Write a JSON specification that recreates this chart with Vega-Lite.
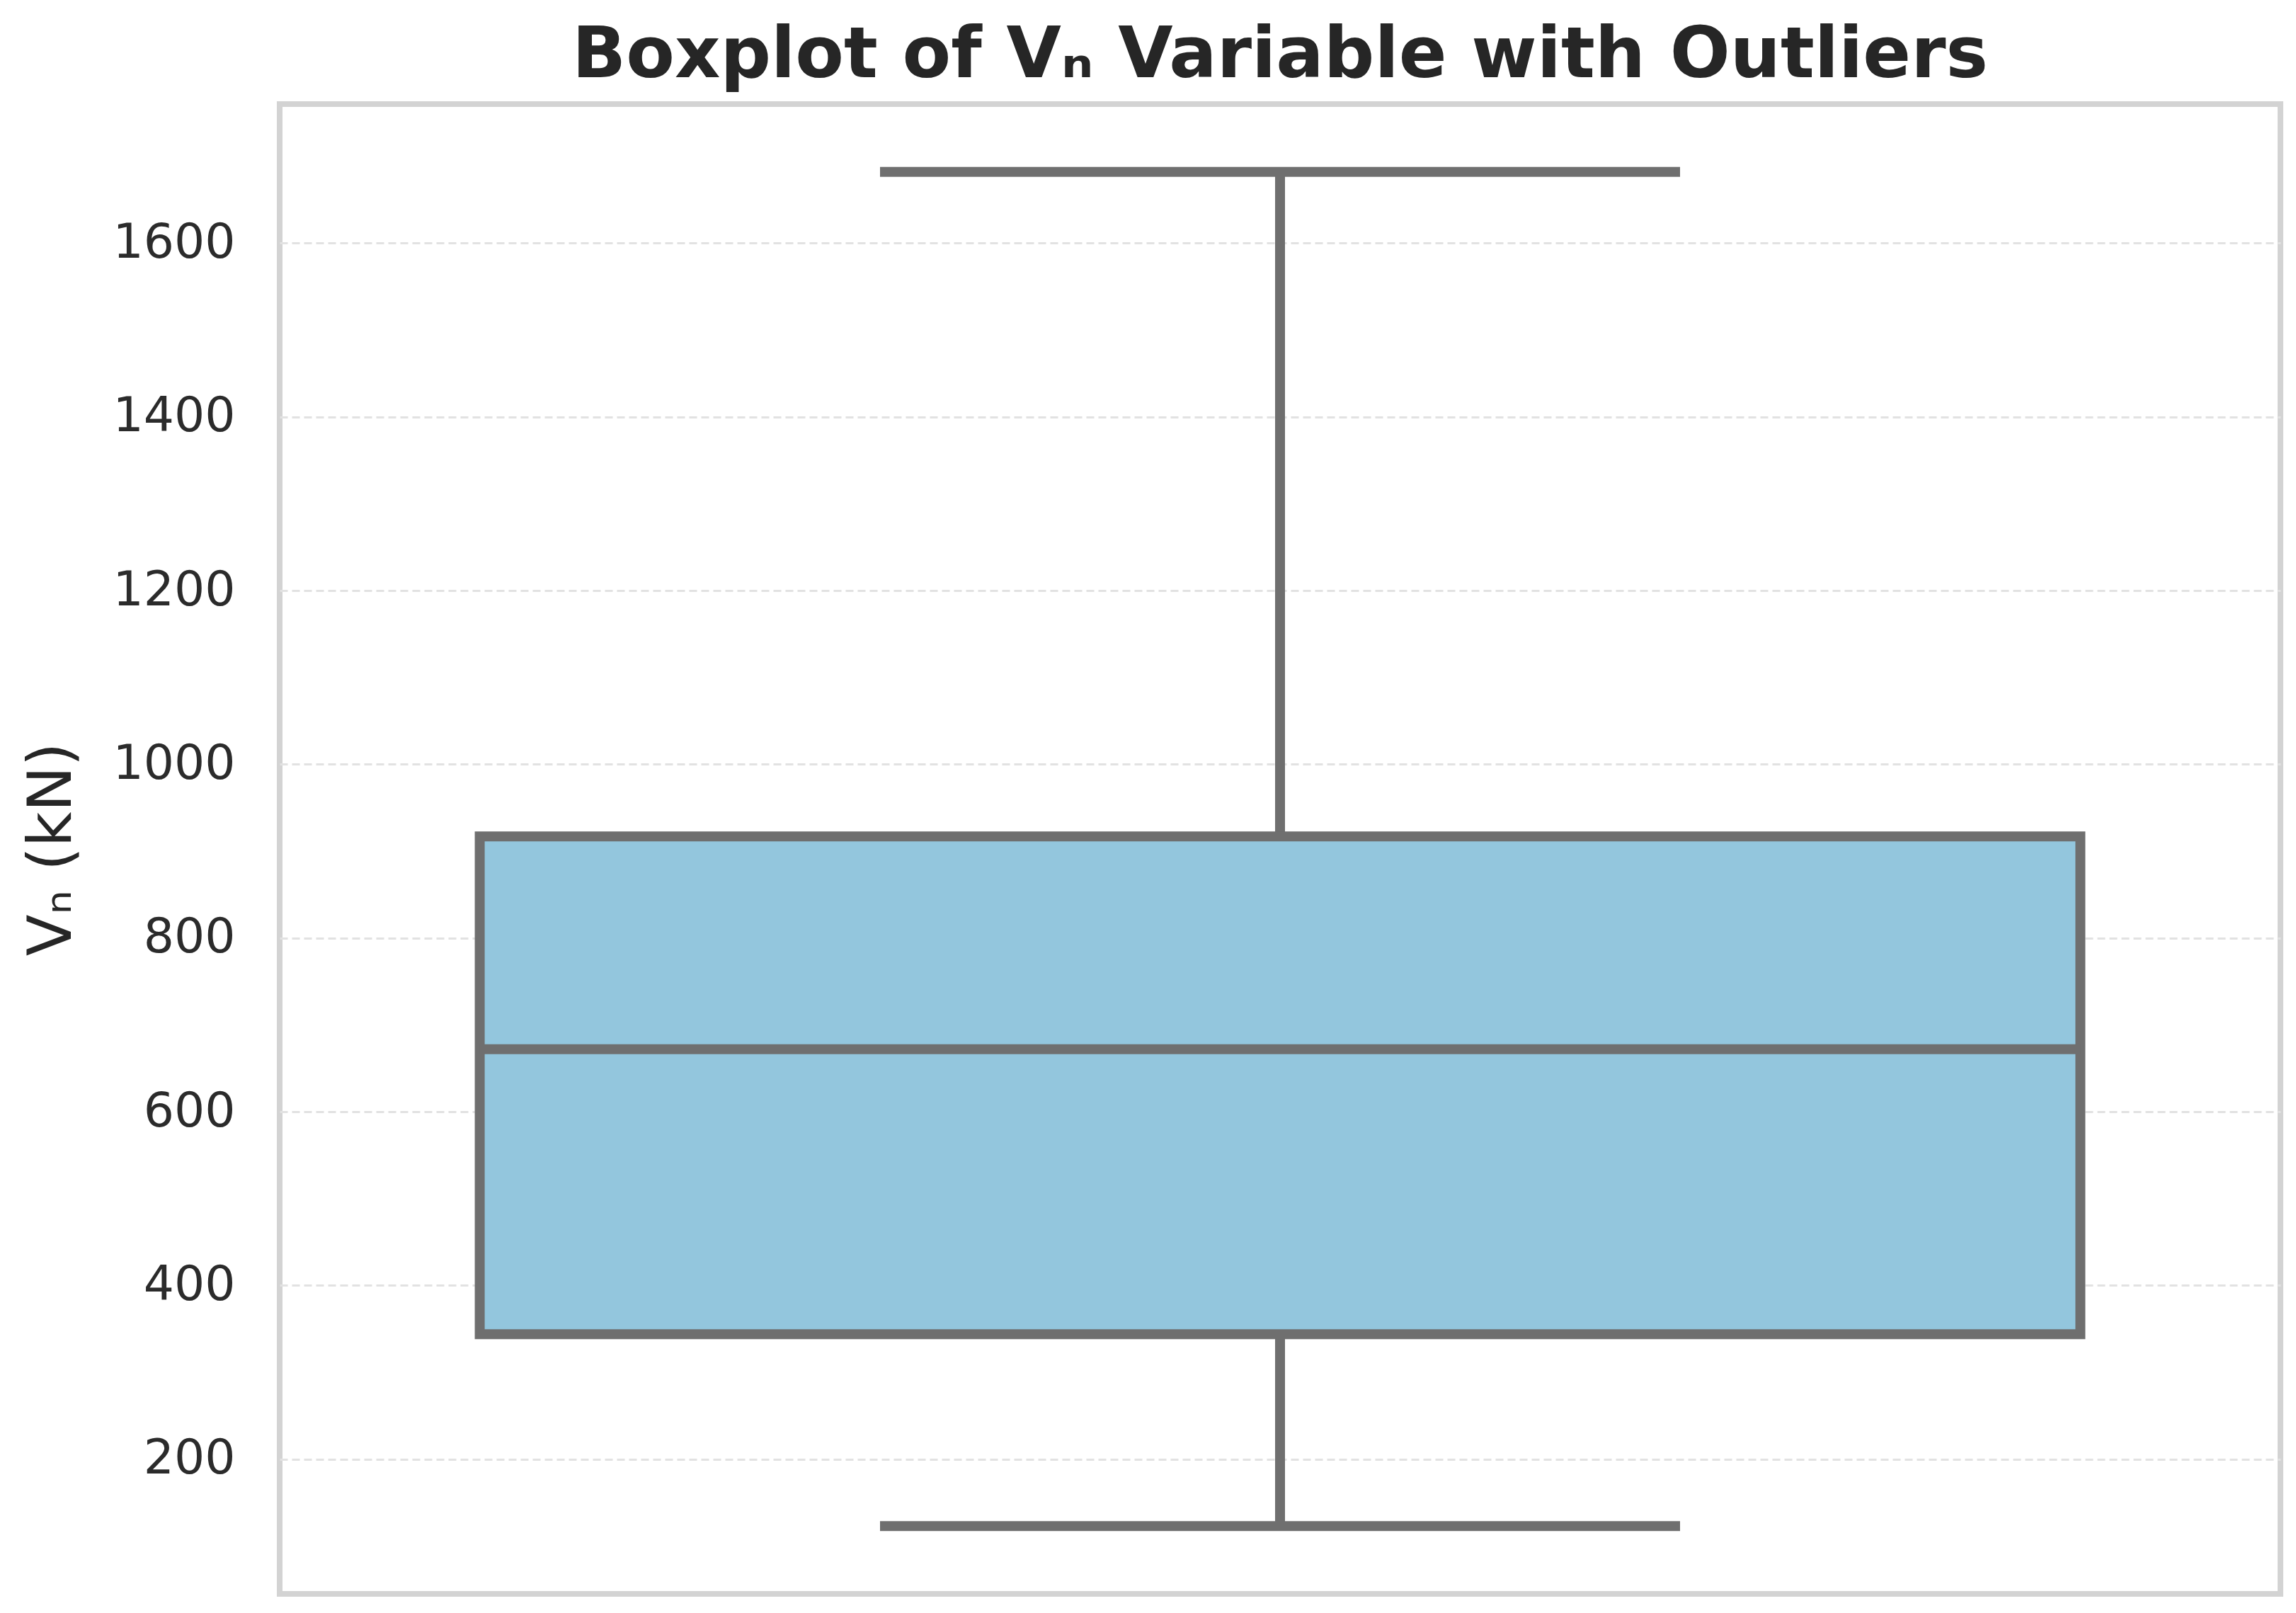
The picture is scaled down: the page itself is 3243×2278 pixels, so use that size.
{
  "$schema": "https://vega.github.io/schema/vega-lite/v6.json",
  "autosize": {"type": "none"},
  "width": 2826,
  "height": 2104,
  "padding": {"left": 395, "top": 147, "right": 22, "bottom": 27},
  "background": "white",
  "title": {
    "text": "Boxplot of Vₙ Variable with Outliers",
    "font": "DejaVu Sans",
    "fontSize": 100,
    "fontWeight": "bold",
    "color": "#262626",
    "anchor": "middle",
    "baseline": "alphabetic",
    "offset": 32,
    "dy": 94
  },
  "data": {
    "values": [
      {"var": "Vn", "lower": 123, "q1": 344, "median": 672, "q3": 917, "upper": 1682}
    ]
  },
  "encoding": {
    "x": {
      "field": "var",
      "type": "nominal",
      "scale": {"paddingInner": 0, "paddingOuter": 0.125},
      "axis": null
    }
  },
  "layer": [
    {
      "mark": {"type": "rule", "color": "#6f6f6f", "strokeWidth": 14},
      "encoding": {
        "y": {
          "field": "lower",
          "type": "quantitative",
          "scale": {"domain": [45, 1760], "nice": false, "zero": false},
          "title": "Vₙ (kN)",
          "axis": {
            "values": [200, 400, 600, 800, 1000, 1200, 1400, 1600],
            "format": "d",
            "labelLimit": 0,
            "domain": false,
            "ticks": false,
            "tickSize": 0,
            "labelPadding": 63,
            "labelFont": "DejaVu Sans",
            "labelFontSize": 68,
            "labelColor": "#2b2b2b",
            "labelBaseline": "middle",
            "grid": true,
            "gridColor": "#e2e2e2",
            "gridWidth": 3,
            "gridDash": [11, 6],
            "titleFont": "DejaVu Sans",
            "titleFontSize": 86,
            "titleFontWeight": "normal",
            "titleColor": "#262626",
            "titleAngle": -90,
            "titleAlign": "center",
            "titleBaseline": "alphabetic",
            "titleX": -296,
            "titleY": 1052
          }
        },
        "y2": {"field": "upper"}
      }
    },
    {
      "mark": {"type": "tick", "color": "#6f6f6f", "orient": "horizontal", "size": 1130, "thickness": 14, "opacity": 1},
      "encoding": {"y": {"field": "lower", "type": "quantitative"}}
    },
    {
      "mark": {"type": "tick", "color": "#6f6f6f", "orient": "horizontal", "size": 1130, "thickness": 14, "opacity": 1},
      "encoding": {"y": {"field": "upper", "type": "quantitative"}}
    },
    {
      "mark": {"type": "bar", "fill": "#93C6DD", "stroke": "#6f6f6f", "strokeWidth": 14, "opacity": 1},
      "encoding": {
        "y": {"field": "q1", "type": "quantitative"},
        "y2": {"field": "q3"}
      }
    },
    {
      "mark": {"type": "tick", "color": "#6f6f6f", "orient": "horizontal", "size": 2261, "thickness": 14, "opacity": 1},
      "encoding": {"y": {"field": "median", "type": "quantitative"}}
    }
  ],
  "config": {
    "view": {"stroke": "#d3d3d3", "strokeWidth": 8},
    "font": "DejaVu Sans"
  }
}
